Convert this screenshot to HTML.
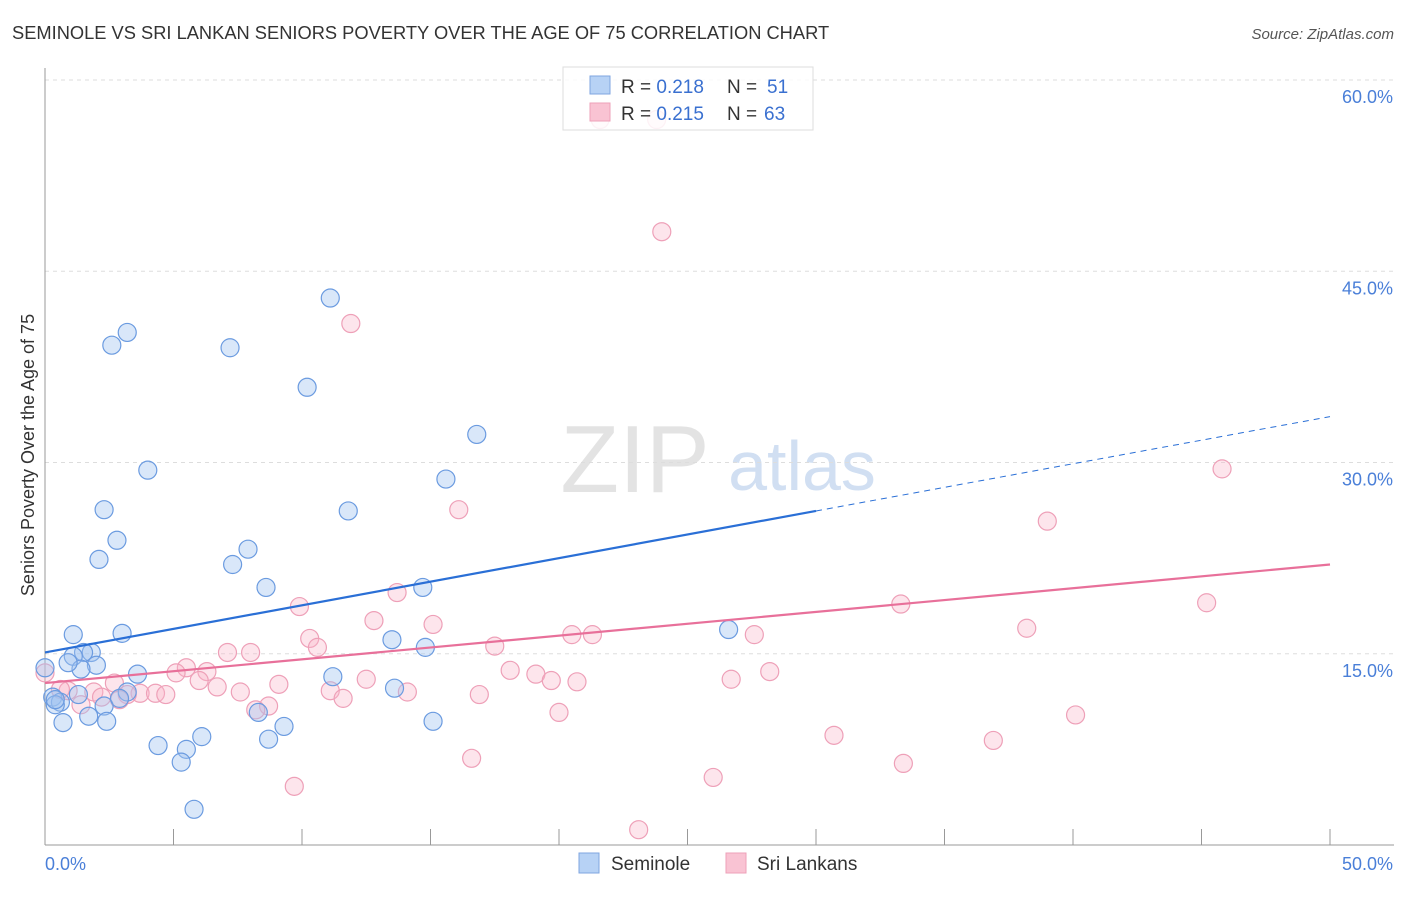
<!DOCTYPE html>
<html><head><meta charset="utf-8"><style>
body{margin:0;background:#fff;font-family:"Liberation Sans",sans-serif;}
svg text{font-family:"Liberation Sans",sans-serif;}
</style></head><body>
<svg id="c" width="1406" height="892">
<text x="12" y="39" font-size="18.3" fill="#333">SEMINOLE VS SRI LANKAN SENIORS POVERTY OVER THE AGE OF 75 CORRELATION CHART</text>
<text x="1394" y="39" font-size="15" fill="#555" text-anchor="end" font-style="italic">Source: ZipAtlas.com</text>
<g><text x="635" y="492" font-size="96" fill="#ddd" text-anchor="middle" font-family="Liberation Serif" opacity="0.8">ZIP</text><text x="802" y="490" font-size="70" fill="#c6d8f0" text-anchor="middle" opacity="0.8">atlas</text></g>
<g id="grid"></g><g id="axes"></g><g id="pts"></g><g id="lines"></g>
<text x="34" y="455" font-size="18" fill="#333" text-anchor="middle" transform="rotate(-90 34 455)">Seniors Poverty Over the Age of 75</text>
<g>
<rect x="563" y="67" width="250" height="63" fill="rgba(255,255,255,0.85)" stroke="#ddd"/>
<rect x="590" y="76" width="20" height="18" fill="#b7d2f5" stroke="#7fa6e0"/>
<text x="621" y="93" font-size="19" fill="#333">R = <tspan fill="#3a70d0">0.218</tspan></text>
<text x="727" y="93" font-size="19" fill="#333">N =</text><text x="767" y="93" font-size="19" fill="#3a70d0">51</text>
<rect x="590" y="103" width="20" height="18" fill="#f9c3d3" stroke="#eea0b8"/>
<text x="621" y="120" font-size="19" fill="#333">R = <tspan fill="#3a70d0">0.215</tspan></text>
<text x="727" y="120" font-size="19" fill="#333">N =</text><text x="764" y="120" font-size="19" fill="#3a70d0">63</text>
</g>
<g>
<rect x="579" y="853" width="20" height="20" fill="#b7d2f5" stroke="#7fa6e0"/><text x="611" y="870" font-size="19" fill="#333">Seminole</text>
<rect x="726" y="853" width="20" height="20" fill="#f9c3d3" stroke="#eea0b8"/><text x="757" y="870" font-size="19" fill="#333">Sri Lankans</text>
</g>
</svg>
<script>
const seminoleX=[11.1,3.2,2.6,7.2,10.2,16.8,4.0,15.6,2.3,11.8,2.8,7.9,2.1,7.3,8.6,14.7,3.0,1.1,13.5,26.6,14.8,1.8,1.5,1.1,2.0,1.4,0.9,3.6,11.2,0,3.2,1.3,0.3,0.6,0.4,2.3,13.6,2.9,1.7,0.7,2.4,8.3,15.1,9.3,6.1,4.4,5.5,8.7,5.3,5.8,0.4];
const seminoleY=[42.9,40.2,39.2,39.0,35.9,32.2,29.4,28.7,26.3,26.2,23.9,23.2,22.4,22.0,20.2,20.2,16.6,16.5,16.1,16.9,15.5,15.1,15.1,14.8,14.1,13.8,14.3,13.4,13.2,13.9,12.0,11.8,11.6,11.2,11.0,10.9,12.3,11.5,10.1,9.6,9.7,10.4,9.7,9.3,8.5,7.8,7.5,8.3,6.5,2.8,11.4];
const sriX=[21.6,23.8,24.0,11.9,45.8,16.1,39.0,13.7,9.9,33.3,45.2,12.8,15.1,38.2,20.5,21.3,27.6,10.3,10.6,17.5,7.1,8.0,5.5,6.3,5.1,18.1,19.1,28.2,12.5,6.0,9.1,19.7,20.7,26.7,2.7,6.7,7.6,11.1,14.1,16.9,3.7,4.3,4.7,3.2,1.9,0.9,0.6,11.6,2.9,2.2,1.4,8.7,8.2,20.0,40.1,0,30.7,36.9,33.4,16.6,26.0,9.7,23.1];
const sriY=[56.9,56.9,48.1,40.9,29.5,26.3,25.4,19.8,18.7,18.9,19.0,17.6,17.3,17.0,16.5,16.5,16.5,16.2,15.5,15.6,15.1,15.1,13.9,13.6,13.5,13.7,13.4,13.6,13.0,12.9,12.6,12.9,12.8,13.0,12.7,12.4,12.0,12.1,12.0,11.8,11.9,11.9,11.8,11.8,12.0,12.1,12.2,11.5,11.4,11.6,11.0,10.9,10.6,10.4,10.2,13.5,8.6,8.2,6.4,6.8,5.3,4.6,1.2];
const seminoleTrend=[15.1,33.6,30.0];
const sriTrend=[12.7,22.0];
const yTicks=[15,30,45,60];
const yTickLabels=["15.0%","30.0%","45.0%","60.0%"];
const xTicks=[0,5,10,15,20,25,30,35,40,45,50];
const NS="http://www.w3.org/2000/svg";
const X=v=>45+v*25.7, Y=v=>845-v*12.75;
function mk(p,tag,a){const e=document.createElementNS(NS,tag);for(const k in a)e.setAttribute(k,a[k]);p.appendChild(e);return e;}
const g=document.getElementById('grid'),ax=document.getElementById('axes'),pts=document.getElementById('pts'),ln=document.getElementById('lines');
yTicks.forEach((t,i)=>{const l=mk(g,'line',{x1:45,x2:1394,y1:Y(t),y2:Y(t),stroke:'#ddd','stroke-dasharray':'4,4'});


const tx=mk(ax,'text',{x:1393,y:Y(t)+23,'font-size':18,fill:'#4a7fd8','text-anchor':'end'});tx.textContent=yTickLabels[i];

});
const a1=mk(ax,'line',{x1:45,x2:45,y1:68,y2:845,stroke:'#999'});


const a2=mk(ax,'line',{x1:45,x2:1394,y1:845,y2:845,stroke:'#999'});


xTicks.forEach(t=>{const l=mk(ax,'line',{x1:X(t),x2:X(t),y1:829,y2:845,stroke:'#999'});

});
const xl0=mk(ax,'text',{x:45,y:870,'font-size':18,fill:'#4a7fd8'});xl0.textContent='0.0%';


const xl1=mk(ax,'text',{x:1393,y:870,'font-size':18,fill:'#4a7fd8','text-anchor':'end'});xl1.textContent='50.0%';


sriX.forEach((v,i)=>{const c=mk(pts,'circle',{cx:X(v),cy:Y(sriY[i]),r:9,fill:'rgba(248,180,200,0.35)',stroke:'#eea0b8','stroke-width':1.2});

});
seminoleX.forEach((v,i)=>{const c=mk(pts,'circle',{cx:X(v),cy:Y(seminoleY[i]),r:9,fill:'rgba(160,195,240,0.4)',stroke:'#6b9be0','stroke-width':1.2});

});
const sl=(seminoleTrend[1]-seminoleTrend[0])/50;
const b1=mk(ln,'line',{x1:X(0),y1:Y(seminoleTrend[0]),x2:X(seminoleTrend[2]),y2:Y(seminoleTrend[0]+sl*seminoleTrend[2]),stroke:'#2a6fd6','stroke-width':2.2});


const b2=mk(ln,'line',{x1:X(seminoleTrend[2]),y1:Y(seminoleTrend[0]+sl*seminoleTrend[2]),x2:X(50),y2:Y(seminoleTrend[1]),stroke:'#2a6fd6','stroke-width':1,'stroke-dasharray':'6,5'});


const p1=mk(ln,'line',{x1:X(0),y1:Y(sriTrend[0]),x2:X(50),y2:Y(sriTrend[1]),stroke:'#e8709a','stroke-width':2.2});


</script>
</body></html>
